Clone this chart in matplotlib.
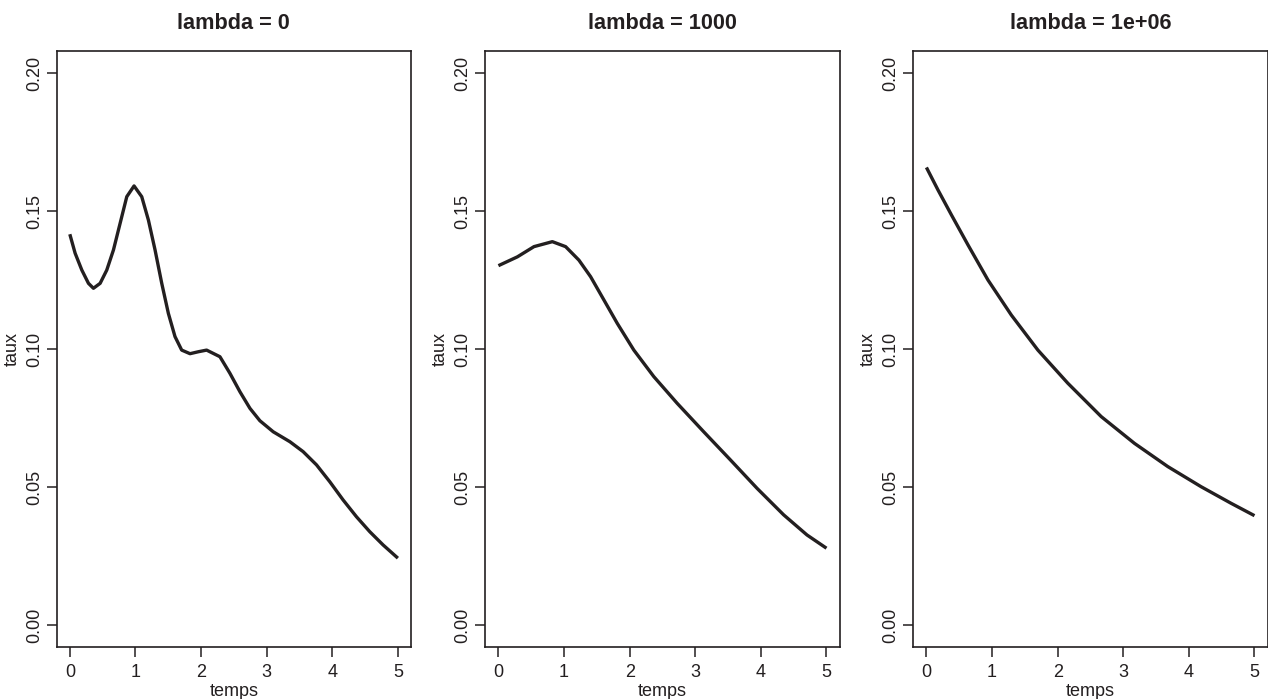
import matplotlib as mpl

mpl.use("Agg")
import matplotlib.pyplot as plt

plt.rcParams["font.family"] = ["Liberation Sans", "DejaVu Sans"]

INK = "#231f20"

TITLES = ["lambda = 0", "lambda = 1000", "lambda = 1e+06"]
X_TICKS = [0, 1, 2, 3, 4, 5]
Y_TICKS = [0.00, 0.05, 0.10, 0.15, 0.20]
Y_TICK_LABELS = ["0.00", "0.05", "0.10", "0.15", "0.20"]

# lambda = 0 : wiggly curve
t0 = [0.0, 0.081, 0.183, 0.284, 0.36, 0.462, 0.563, 0.665, 0.766, 0.868, 0.979,
      1.096, 1.198, 1.299, 1.401, 1.502, 1.603, 1.705, 1.832, 1.958, 2.085,
      2.288, 2.44, 2.593, 2.745, 2.897, 3.10, 3.354, 3.556, 3.76, 3.962, 4.165,
      4.369, 4.571, 4.774, 5.0]
taux0 = [0.1416, 0.1347, 0.1286, 0.1238, 0.1220, 0.1238, 0.1286, 0.1359, 0.1455,
         0.1552, 0.1591, 0.1552, 0.1467, 0.1359, 0.1238, 0.1129, 0.1045, 0.0996,
         0.0983, 0.0990, 0.0996, 0.0972, 0.0912, 0.0845, 0.0785, 0.0740, 0.0700,
         0.0664, 0.0628, 0.0580, 0.0519, 0.0453, 0.0392, 0.0338, 0.0290, 0.0242]

# lambda = 1000 : smoother
t1 = [0.0, 0.289, 0.542, 0.822, 1.024, 1.227, 1.405, 1.607, 1.811, 2.064,
      2.368, 2.725, 3.129, 3.536, 3.942, 4.347, 4.703, 5.0]
taux1 = [0.1302, 0.1334, 0.1371, 0.1389, 0.1371, 0.1322, 0.1262, 0.1178, 0.1093,
         0.0996, 0.0900, 0.0803, 0.0700, 0.0598, 0.0495, 0.0399, 0.0326, 0.0278]

# lambda = 1e+06 : near exponential decay
t2 = [0.0, 0.177, 0.381, 0.634, 0.938, 1.294, 1.699, 2.155, 2.664, 3.171, 3.678,
      4.186, 4.642, 5.0]
taux2 = [0.1658, 0.1576, 0.1486, 0.1377, 0.1250, 0.1123, 0.0996, 0.0876, 0.0755,
         0.0658, 0.0574, 0.0501, 0.0441, 0.0396]

SERIES = [(t0, taux0), (t1, taux1), (t2, taux2)]

W, H = 1268, 699
fig = plt.figure(figsize=(W / 100, H / 100), dpi=100, facecolor="white")
lefts = [56.7, 485.3, 913.3]

for left, title, (t, taux) in zip(lefts, TITLES, SERIES):
    ax = fig.add_axes([left / W, 1 - 647 / H, 354.3 / W, (647 - 51) / H])
    ax.plot(t, taux, color=INK, lw=2.4, solid_joinstyle="round", solid_capstyle="butt")
    ax.set_xlim(-0.2, 5.2)
    ax.set_ylim(-0.008, 0.208)
    ax.set_xticks(X_TICKS)
    ax.set_xticklabels([str(v) for v in X_TICKS])
    ax.set_yticks(Y_TICKS)
    ax.set_yticklabels(Y_TICK_LABELS, rotation=90, va="center")
    ax.tick_params(axis="both", direction="out", length=7, width=1.1, color=INK,
                   labelcolor=INK, labelsize=13)
    ax.tick_params(axis="x", pad=5)
    ax.tick_params(axis="y", pad=3)
    for sp in ax.spines.values():
        sp.set_color(INK)
        sp.set_linewidth(1.2)
    ax.set_xlabel("temps", fontsize=13, color=INK, labelpad=2)
    ax.set_ylabel("taux", fontsize=13, color=INK, labelpad=4)
    ax.set_title(title, fontsize=15.6, fontweight="bold", color=INK, pad=16)

fig.savefig("out.png", dpi=100, facecolor="white")
